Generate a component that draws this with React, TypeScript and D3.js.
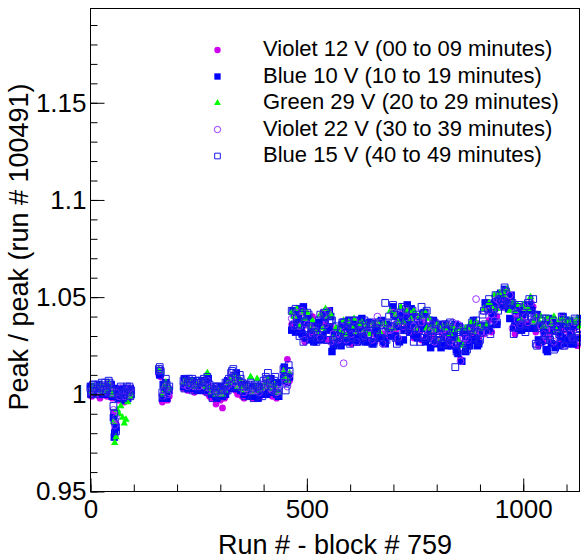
import React, { useEffect, useRef } from 'react';
import * as d3 from 'd3';

// run number minus 759 (block start)
const runs = [
  0, 3, 6, 9,
  18, 22, 26, 30, 34, 38,
  42, 46, 50, 53, 56, 59, 62, 66, 70,
  74, 78, 82, 86, 90, 94,
  158, 162, 166, 170, 174, 178, 182,
  215, 220, 225, 230, 235, 240, 245, 250, 255,
  260, 265, 270, 275, 280, 285, 290, 295, 300, 305, 310,
  315, 320, 325, 330, 335, 340, 345, 350, 355, 360, 365, 370, 375, 380, 385, 390, 395, 400, 405, 410, 415, 420, 425, 430, 435,
  446, 451, 455, 460,
  465, 471, 477, 483, 489, 495, 501, 507, 513, 519,
  525, 531, 537, 543, 549, 555, 561, 567, 573, 579,
  585, 591, 597, 603, 609, 615, 621, 627, 633, 639,
  645, 651, 657, 663, 669, 675, 681, 687, 693, 699,
  705, 711, 717, 723, 729, 735, 741, 747, 753, 759,
  765, 771, 777, 783, 789, 795, 801, 807, 813, 819,
  825, 831, 837, 843, 849, 855, 861, 867, 873, 879,
  885, 891, 897, 903, 909, 915, 921, 927, 933, 939,
  945, 951, 957, 963, 969, 975, 981, 987, 993, 999,
  1005, 1011, 1017, 1023, 1029, 1035, 1041, 1047, 1053, 1059,
  1065, 1071, 1077, 1083, 1089, 1095, 1101, 1107, 1113, 1119,
  1125, 1131,
];

const violet12 = [
  1.001, 0.999, 1.000, 1.001,
  1.000, 0.998, 1.001, 1.000, 1.002, 0.999,
  1.003, 1.001, 0.998, 0.990, 0.982, 0.985, 0.999, 0.997, 1.000,
  0.998, 0.996, 0.999, 0.997, 1.000, 0.999,
  1.010, 1.009, 0.996, 0.998, 1.000, 0.997, 0.999,
  1.003, 1.004, 1.002, 1.003, 1.004, 1.001, 1.002, 1.003, 1.002,
  1.003, 1.001, 1.004, 0.999, 0.998, 1.000, 0.995, 0.998, 0.997, 0.993, 0.998,
  1.001, 1.003, 1.004, 1.005, 1.002, 1.000, 1.003, 0.999, 0.998, 1.000, 0.999, 1.001, 0.998, 1.000, 0.999, 0.998, 1.000, 1.001, 1.002, 1.003, 1.000, 0.999, 1.001, 0.998, 1.000,
  1.010, 1.008, 1.018, 1.007,
  1.036, 1.040, 1.033, 1.041, 1.034, 1.027, 1.036, 1.031, 1.040, 1.028,
  1.032, 1.028, 1.042, 1.036, 1.028, 1.035, 1.026, 1.028, 1.028, 1.032,
  1.029, 1.036, 1.032, 1.026, 1.035, 1.029, 1.031, 1.030, 1.033, 1.027,
  1.037, 1.031, 1.027, 1.033, 1.029, 1.031, 1.029, 1.034, 1.030, 1.042,
  1.033, 1.027, 1.039, 1.033, 1.036, 1.035, 1.039, 1.029, 1.040, 1.032,
  1.028, 1.037, 1.030, 1.033, 1.029, 1.033, 1.027, 1.033, 1.030, 1.027,
  1.032, 1.028, 1.030, 1.024, 1.028, 1.018, 1.031, 1.028, 1.025, 1.032,
  1.029, 1.031, 1.029, 1.034, 1.031, 1.044, 1.038, 1.032, 1.045, 1.040,
  1.047, 1.047, 1.051, 1.046, 1.049, 1.039, 1.031, 1.040, 1.035, 1.040,
  1.036, 1.044, 1.037, 1.045, 1.032, 1.025, 1.035, 1.027, 1.032, 1.030,
  1.033, 1.026, 1.034, 1.031, 1.027, 1.033, 1.029, 1.031, 1.029, 1.034,
  1.025, 1.036,
];

const blue10 = [
  1.003, 1.000, 1.002, 1.001,
  1.002, 1.001, 1.003, 1.001, 1.004, 1.000,
  1.004, 1.002, 0.999, 0.988, 0.980, 0.983, 1.000, 0.998, 1.001,
  0.999, 0.997, 1.000, 0.998, 1.001, 1.000,
  1.012, 1.011, 0.998, 1.003, 1.006, 1.001, 1.002,
  1.004, 1.006, 1.003, 1.005, 1.006, 1.003, 1.004, 1.005, 1.004,
  1.005, 1.003, 1.006, 1.002, 1.000, 1.002, 0.999, 1.001, 1.000, 0.999, 1.001,
  1.003, 1.005, 1.007, 1.008, 1.005, 1.003, 1.006, 1.002, 1.000, 1.002, 1.001, 1.003, 0.999, 1.002, 1.001, 1.000, 1.002, 1.003, 1.004, 1.006, 1.002, 1.001, 1.003, 1.000, 0.999,
  1.010, 1.007, 1.006, 1.009,
  1.033, 1.041, 1.037, 1.044, 1.031, 1.036, 1.039, 1.028, 1.035, 1.028,
  1.036, 1.030, 1.030, 1.041, 1.034, 1.040, 1.025, 1.029, 1.034, 1.025,
  1.035, 1.030, 1.038, 1.029, 1.028, 1.034, 1.030, 1.039, 1.028, 1.032,
  1.037, 1.026, 1.036, 1.029, 1.037, 1.028, 1.026, 1.035, 1.034, 1.045,
  1.030, 1.035, 1.041, 1.028, 1.040, 1.036, 1.044, 1.031, 1.030, 1.036,
  1.034, 1.042, 1.029, 1.034, 1.035, 1.026, 1.033, 1.028, 1.036, 1.029,
  1.025, 1.033, 1.029, 1.036, 1.021, 1.026, 1.032, 1.022, 1.034, 1.028,
  1.038, 1.028, 1.026, 1.035, 1.035, 1.047, 1.034, 1.042, 1.047, 1.036,
  1.049, 1.047, 1.054, 1.047, 1.039, 1.044, 1.037, 1.045, 1.034, 1.041,
  1.044, 1.034, 1.046, 1.037, 1.040, 1.028, 1.027, 1.033, 1.023, 1.039,
  1.026, 1.033, 1.035, 1.025, 1.036, 1.029, 1.038, 1.027, 1.026, 1.035,
  1.029, 1.039,
];

const green29 = [
  1.003, 1.001, 1.004, 1.002,
  1.004, 1.001, 1.005, 1.002, 1.003, 1.002,
  1.006, 1.003, 1.000, 0.986, 0.975, 0.978, 0.992, 0.990, 0.994,
  0.988, 0.985, 0.987, 0.996, 0.999, 1.000,
  1.013, 1.012, 1.000, 1.004, 1.006, 1.002, 1.003,
  1.006, 1.007, 1.005, 1.006, 1.007, 1.004, 1.005, 1.006, 1.005,
  1.006, 1.004, 1.011, 1.003, 1.001, 1.003, 1.000, 1.002, 1.001, 1.000, 1.002,
  1.005, 1.006, 1.008, 1.010, 1.007, 1.004, 1.008, 1.003, 1.002, 1.004, 1.003, 1.009, 1.001, 1.004, 1.008, 1.002, 1.003, 1.004, 1.006, 1.008, 1.004, 1.003, 1.005, 1.002, 1.001,
  1.012, 1.009, 1.007, 1.011,
  1.042, 1.040, 1.044, 1.035, 1.042, 1.039, 1.042, 1.035, 1.038, 1.033,
  1.032, 1.041, 1.034, 1.044, 1.040, 1.041, 1.029, 1.034, 1.034, 1.032,
  1.038, 1.030, 1.037, 1.035, 1.039, 1.032, 1.036, 1.037, 1.033, 1.036,
  1.031, 1.036, 1.036, 1.037, 1.032, 1.036, 1.036, 1.034, 1.043, 1.034,
  1.041, 1.037, 1.045, 1.037, 1.043, 1.043, 1.039, 1.043, 1.034, 1.040,
  1.040, 1.043, 1.034, 1.039, 1.035, 1.033, 1.036, 1.028, 1.035, 1.034,
  1.036, 1.031, 1.035, 1.033, 1.028, 1.034, 1.025, 1.034, 1.034, 1.037,
  1.032, 1.037, 1.036, 1.034, 1.044, 1.036, 1.047, 1.045, 1.051, 1.044,
  1.052, 1.053, 1.051, 1.054, 1.043, 1.047, 1.043, 1.046, 1.039, 1.046,
  1.044, 1.044, 1.050, 1.037, 1.040, 1.038, 1.040, 1.035, 1.039, 1.039,
  1.036, 1.040, 1.033, 1.038, 1.038, 1.039, 1.036, 1.038, 1.038, 1.037,
  1.039, 1.035,
];

const violet22 = [
  1.002, 1.001, 1.003, 1.000,
  1.003, 1.002, 1.004, 1.001, 1.005, 1.001,
  1.005, 1.004, 1.001, 0.992, 0.984, 0.988, 1.001, 0.999, 1.003,
  1.000, 0.999, 1.002, 1.000, 1.003, 1.001,
  1.012, 1.013, 0.999, 1.002, 1.004, 1.000, 1.001,
  1.005, 1.006, 1.004, 1.005, 1.006, 1.004, 1.005, 1.004, 1.006,
  1.006, 1.004, 1.007, 1.003, 1.002, 1.004, 1.001, 1.002, 1.001, 1.002, 1.003,
  1.004, 1.005, 1.009, 1.010, 1.006, 1.005, 1.007, 1.004, 1.001, 1.003, 1.002, 1.004, 1.002, 1.003, 1.002, 1.001, 1.003, 1.005, 1.006, 1.008, 1.003, 1.002, 1.004, 1.001, 1.002,
  1.011, 1.006, 1.004, 1.010,
  1.039, 1.035, 1.042, 1.035, 1.043, 1.028, 1.036, 1.035, 1.031, 1.033,
  1.032, 1.029, 1.041, 1.036, 1.043, 1.027, 1.031, 1.028, 1.028, 1.035,
  1.016, 1.028, 1.036, 1.031, 1.038, 1.027, 1.033, 1.033, 1.030, 1.035,
  1.034, 1.028, 1.037, 1.040, 1.037, 1.026, 1.034, 1.033, 1.033, 1.042,
  1.036, 1.029, 1.041, 1.035, 1.043, 1.032, 1.040, 1.035, 1.033, 1.039,
  1.037, 1.030, 1.038, 1.032, 1.036, 1.027, 1.033, 1.030, 1.029, 1.036,
  1.031, 1.027, 1.037, 1.026, 1.036, 1.017, 1.029, 1.029, 1.028, 1.034,
  1.033, 1.049, 1.036, 1.032, 1.043, 1.032, 1.043, 1.041, 1.038, 1.049,
  1.048, 1.045, 1.053, 1.048, 1.051, 1.034, 1.042, 1.038, 1.036, 1.045,
  1.040, 1.037, 1.047, 1.038, 1.040, 1.026, 1.035, 1.031, 1.029, 1.037,
  1.032, 1.027, 1.034, 1.031, 1.039, 1.025, 1.034, 1.031, 1.029, 1.037,
  1.032, 1.027,
];

const blue15 = [
  1.004, 1.002, 1.005, 1.003,
  1.005, 1.003, 1.006, 1.002, 1.006, 1.003,
  1.007, 1.005, 1.002, 0.994, 0.986, 0.981, 1.002, 1.000, 1.004,
  1.001, 1.000, 1.003, 1.001, 1.004, 1.002,
  1.013, 1.012, 1.001, 1.005, 1.008, 1.003, 1.004,
  1.007, 1.008, 1.006, 1.007, 1.008, 1.005, 1.006, 1.007, 1.006,
  1.007, 1.006, 1.009, 1.005, 1.003, 1.004, 1.002, 1.004, 1.003, 1.002, 1.004,
  1.006, 1.008, 1.011, 1.013, 1.009, 1.007, 1.010, 1.006, 1.004, 1.005, 1.004, 1.006, 1.003, 1.005, 1.004, 1.003, 1.005, 1.007, 1.009, 1.011, 1.006, 1.004, 1.007, 1.003, 1.004,
  1.013, 1.002, 1.009, 1.012,
  1.043, 1.036, 1.039, 1.030, 1.041, 1.034, 1.042, 1.030, 1.035, 1.034,
  1.029, 1.041, 1.032, 1.040, 1.028, 1.038, 1.028, 1.035, 1.026, 1.033,
  1.037, 1.029, 1.038, 1.029, 1.034, 1.027, 1.035, 1.032, 1.038, 1.027,
  1.035, 1.036, 1.030, 1.036, 1.029, 1.032, 1.047, 1.037, 1.035, 1.046,
  1.029, 1.036, 1.042, 1.033, 1.044, 1.034, 1.039, 1.027, 1.041, 1.033,
  1.045, 1.029, 1.043, 1.038, 1.029, 1.037, 1.028, 1.031, 1.026, 1.036,
  1.029, 1.037, 1.026, 1.014, 1.032, 1.034, 1.023, 1.030, 1.025, 1.034,
  1.031, 1.038, 1.027, 1.035, 1.043, 1.035, 1.049, 1.036, 1.044, 1.037,
  1.051, 1.048, 1.055, 1.046, 1.047, 1.047, 1.035, 1.045, 1.035, 1.042,
  1.032, 1.047, 1.042, 1.049, 1.026, 1.034, 1.038, 1.028, 1.039, 1.030,
  1.033, 1.023, 1.035, 1.031, 1.040, 1.025, 1.034, 1.037, 1.029, 1.039,
  1.027, 1.034,
];

// the two blue settings were also read out on the runs in between
const runsBetween = [
  1, 7, 20, 28, 36, 44, 48, 55, 64, 76, 84, 92,
  160, 168, 176,
  217, 227, 237, 247, 257, 262, 272, 282, 292, 302, 312,
  317, 327, 337, 347, 357, 367, 377, 387, 397, 407, 417, 427, 433, 448, 458,
  468, 474, 480, 486, 492, 498, 504, 510, 516, 522,
  528, 534, 540, 546, 552, 558, 564, 570, 576, 582,
  588, 594, 600, 606, 612, 618, 624, 630, 636, 642,
  648, 654, 660, 666, 672, 678, 684, 690, 696, 702,
  708, 714, 720, 726, 732, 738, 744, 750, 756, 762,
  768, 774, 780, 786, 792, 798, 804, 810, 816, 822,
  828, 834, 840, 846, 852, 858, 864, 870, 876, 882,
  888, 894, 900, 906, 912, 918, 924, 930, 936, 942,
  948, 954, 960, 966, 972, 978, 984, 990, 996, 1002,
  1008, 1014, 1020, 1026, 1032, 1038, 1044, 1050, 1056, 1062,
  1068, 1074, 1080, 1086, 1092, 1098, 1104, 1110, 1116, 1122,
  1128,
];

const blue10Between = [
  1.004, 1.000, 1.005, 1.000, 1.004, 1.001, 1.005, 0.978, 1.003, 1.003, 0.998, 1.003,
  1.010, 1.005, 0.998,
  1.008, 1.003, 1.007, 1.002, 1.007, 1.002, 1.008, 1.003, 0.998, 1.004, 1.000,
  1.007, 1.003, 1.011, 1.002, 1.005, 0.999, 1.004, 0.998, 1.004, 1.000, 1.008, 1.002, 1.006, 1.014, 1.009,
  1.043, 1.032, 1.039, 1.033, 1.045, 1.029, 1.038, 1.033, 1.027, 1.034,
  1.037, 1.028, 1.039, 1.033, 1.043, 1.022, 1.032, 1.028, 1.026, 1.036,
  1.037, 1.027, 1.034, 1.030, 1.038, 1.027, 1.035, 1.032, 1.027, 1.036,
  1.037, 1.027, 1.033, 1.029, 1.038, 1.027, 1.036, 1.034, 1.030, 1.041,
  1.040, 1.027, 1.038, 1.033, 1.046, 1.032, 1.041, 1.035, 1.029, 1.040,
  1.041, 1.027, 1.035, 1.024, 1.038, 1.027, 1.034, 1.024, 1.027, 1.035,
  1.035, 1.025, 1.031, 1.023, 1.035, 1.017, 1.032, 1.029, 1.025, 1.035,
  1.036, 1.025, 1.034, 1.032, 1.047, 1.033, 1.046, 1.040, 1.036, 1.050,
  1.052, 1.045, 1.050, 1.044, 1.051, 1.034, 1.043, 1.038, 1.033, 1.044,
  1.046, 1.035, 1.043, 1.034, 1.041, 1.027, 1.036, 1.031, 1.022, 1.037,
  1.037, 1.024, 1.033, 1.030, 1.040, 1.026, 1.035, 1.031, 1.026, 1.037,
  1.037,
];

const blue15Between = [
  1.000, 1.005, 1.000, 1.004, 1.001, 1.006, 1.000, 0.990, 0.998, 0.998, 1.004, 0.999,
  1.014, 0.999, 1.005,
  1.003, 1.008, 1.002, 1.007, 1.003, 1.008, 1.001, 0.998, 1.004, 0.999, 1.006,
  1.002, 1.012, 1.004, 1.008, 0.999, 1.005, 0.998, 1.004, 0.999, 1.008, 1.002, 1.009, 1.000, 1.008, 1.015,
  1.035, 1.044, 1.036, 1.041, 1.027, 1.037, 1.041, 1.031, 1.032, 1.027,
  1.038, 1.034, 1.042, 1.028, 1.037, 1.038, 1.026, 1.030, 1.027, 1.037,
  1.031, 1.036, 1.026, 1.034, 1.038, 1.029, 1.033, 1.029, 1.036, 1.031,
  1.036, 1.026, 1.034, 1.037, 1.029, 1.032, 1.028, 1.040, 1.035, 1.041,
  1.026, 1.038, 1.045, 1.033, 1.038, 1.032, 1.043, 1.034, 1.039, 1.027,
  1.038, 1.042, 1.030, 1.033, 1.028, 1.036, 1.029, 1.034, 1.026, 1.033,
  1.036, 1.028, 1.030, 1.022, 1.033, 1.024, 1.032, 1.023, 1.033, 1.037,
  1.029, 1.032, 1.028, 1.041, 1.036, 1.044, 1.031, 1.044, 1.051, 1.043,
  1.049, 1.046, 1.053, 1.046, 1.047, 1.031, 1.041, 1.046, 1.036, 1.040,
  1.036, 1.049, 1.040, 1.041, 1.025, 1.035, 1.039, 1.028, 1.033, 1.028,
  1.038, 1.029, 1.035, 1.026, 1.034, 1.038, 1.028, 1.032, 1.028, 1.038,
  1.030,
];

const seriesLabels = [
  'Violet 12 V (00 to 09 minutes)',
  'Blue 10 V (10 to 19 minutes)',
  'Green 29 V (20 to 29 minutes)',
  'Violet 22 V (30 to 39 minutes)',
  'Blue 15 V (40 to 49 minutes)',
];
const xTicks = [0, 500, 1000];
const yTicks = [0.95, 1, 1.05, 1.1, 1.15];

const App = () => {
  const ref = useRef<SVGSVGElement>(null);

  useEffect(() => {
    const width = 581;
    const height = 560;
    const left = 90.5, right = 579.5, top = 8.5, bottom = 491.5;
    const font = "'Liberation Sans', Arial, Helvetica, sans-serif";

    const svg = d3.select(ref.current)
      .attr('width', width)
      .attr('height', height);
    svg.selectAll('*').remove();

    svg.append('rect')
      .attr('width', width).attr('height', height).attr('fill', '#fff');

    const xScale = d3.scaleLinear().domain([0, 1130]).range([left, right]);
    const yScale = d3.scaleLinear().domain([0.95, 1.1985]).range([bottom, top]);

    const pts = (rs: number[], vals: number[]) =>
      rs.map((r, i) => [r, vals[i]]).filter(d => d[1] !== undefined);

    // markers: [points, symbol, size, filled, colour]
    const series: [number[][], d3.SymbolType, number, boolean, string][] = [
      [pts(runs, violet12), d3.symbolCircle, 36, true, '#cc00ee'],
      [pts(runs, blue10).concat(pts(runsBetween, blue10Between)), d3.symbolSquare, 56, true, '#0000ff'],
      [pts(runs, green29), d3.symbolTriangle, 24, true, '#00ff00'],
      [pts(runs, violet22), d3.symbolCircle, 36, false, '#9933ff'],
      [pts(runs, blue15).concat(pts(runsBetween, blue15Between)), d3.symbolSquare, 46, false, '#1a1ae6'],
    ];

    const plot = svg.append('g');
    series.forEach(([data, type, size, filled, color]) => {
      const path = d3.symbol().type(type).size(size)();
      plot.append('g')
        .selectAll('path')
        .data(data)
        .enter()
        .append('path')
        .attr('d', path)
        .attr('transform', d => 'translate(' + xScale(d[0]) + ',' + yScale(d[1]) + ')')
        .attr('fill', filled ? color : 'none')
        .attr('stroke', filled ? 'none' : color)
        .attr('stroke-width', 1);
    });

    // frame
    svg.append('rect')
      .attr('x', left).attr('y', top)
      .attr('width', right - left).attr('height', bottom - top)
      .attr('fill', 'none').attr('stroke', '#000').attr('stroke-width', 1);

    // y axis (ticks inside the frame)
    const yMinor = d3.range(95, 120).map(d => d / 100);
    svg.append('g')
      .attr('transform', 'translate(' + left + ',0)')
      .call(d3.axisLeft(yScale).tickValues(yMinor).tickSize(-7).tickFormat(() => ''))
      .call(g => g.select('.domain').remove());
    const yAxis = svg.append('g')
      .attr('transform', 'translate(' + left + ',0)')
      .call(d3.axisLeft(yScale).tickValues(yTicks).tickSize(-14).tickPadding(4).tickFormat(d => String(d)));
    yAxis.select('.domain').remove();
    yAxis.selectAll('text').attr('font-family', font).attr('font-size', 26).attr('fill', '#000');

    // x axis
    const xMinor = d3.range(0, 1131, 100);
    svg.append('g')
      .attr('transform', 'translate(0,' + bottom + ')')
      .call(d3.axisBottom(xScale).tickValues(xMinor).tickSize(-7).tickFormat(() => ''))
      .call(g => g.select('.domain').remove());
    const xAxis = svg.append('g')
      .attr('transform', 'translate(0,' + bottom + ')')
      .call(d3.axisBottom(xScale).tickValues(xTicks).tickSize(-13).tickPadding(8).tickFormat(d => String(d)));
    xAxis.select('.domain').remove();
    xAxis.selectAll('text').attr('font-family', font).attr('font-size', 26).attr('fill', '#000');
    svg.selectAll('.tick line').attr('stroke', '#000');

    // axis titles
    svg.append('text')
      .attr('x', (left + right) / 2).attr('y', 554)
      .attr('text-anchor', 'middle')
      .attr('font-family', font).attr('font-size', 27)
      .text('Run # - block # 759');
    svg.append('text')
      .attr('transform', 'translate(28,247) rotate(-90)')
      .attr('text-anchor', 'middle')
      .attr('font-family', font).attr('font-size', 27)
      .text('Peak / peak (run # 100491)');

    // legend
    const legend = svg.append('g');
    series.forEach(([, type, , filled, color], i) => {
      const yy = 50 + i * 26.5;
      const lsize = type === d3.symbolTriangle ? 20 : (filled && type === d3.symbolSquare ? 40 : 32);
      legend.append('path')
        .attr('d', d3.symbol().type(type).size(lsize)())
        .attr('transform', 'translate(217.5,' + yy + ')')
        .attr('fill', filled ? color : 'none')
        .attr('stroke', filled ? 'none' : color);
      legend.append('text')
        .attr('x', 263).attr('y', yy + 6)
        .attr('font-family', font).attr('font-size', 22)
        .text(seriesLabels[i]);
    });
  }, []);

  return <svg ref={ref} style={{ position: 'absolute', left: 0, top: 0, display: 'block' }} />;
};

export default App;
